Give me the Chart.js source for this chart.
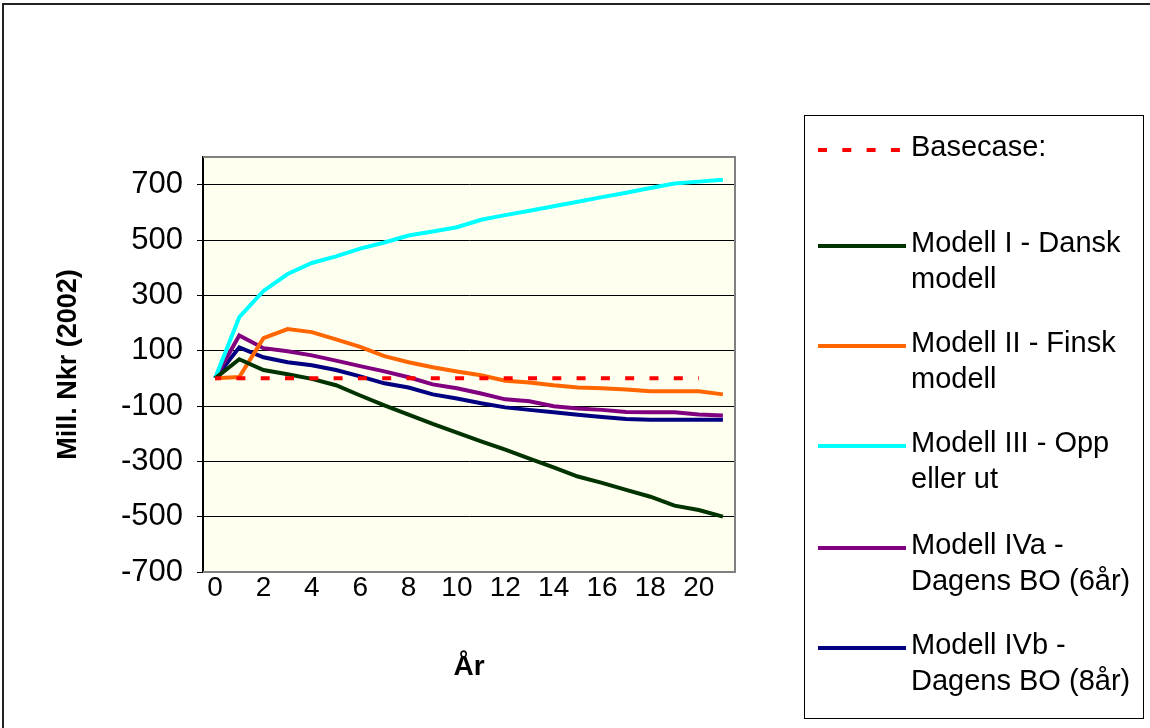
<!DOCTYPE html>
<html>
<head>
<meta charset="utf-8">
<title>Modell</title>
<script src="https://cdn.jsdelivr.net/npm/chart.js@4.4.0/dist/chart.umd.min.js"></script>
<style>
  html, body { margin: 0; padding: 0; background: #fff; }
  #wrap { width: 1150px; height: 728px; position: relative; }
</style>
</head>
<body>
<div id="wrap"><canvas id="chart"></canvas></div>
<script>
// years on the x axis
const years = ['0','1','2','3','4','5','6','7','8','9','10','11','12','13','14','15','16','17','18','19','20','21'];
const yTicks = [-700, -500, -300, -100, 100, 300, 500, 700];

// Mill. Nkr (2002) per year
const basecase = [0,0,0,0,0,0,0,0,0,0,0,0,0,0,0,0,0,0,0,0,0,null];
const dansk = [0, 69, 30, 15, -2, -25, -62, -98, -131, -165, -196, -228, -258, -290, -322, -355, -378, -403, -428, -460, -476, -500];
const finsk = [0, 5, 145, 178, 167, 141, 114, 80, 58, 40, 25, 11, -9, -15, -25, -33, -36, -40, -47, -47, -47, -58];
const oppEllerUt = [0, 221, 316, 377, 417, 441, 469, 491, 516, 531, 546, 573, 590, 606, 622, 638, 655, 671, 688, 704, 711, 718];
const dagensBO6 = [0, 155, 109, 98, 83, 64, 44, 25, 4, -22, -36, -55, -76, -83, -101, -109, -114, -122, -123, -123, -131, -134];
const dagensBO8 = [0, 112, 76, 58, 47, 30, 7, -18, -33, -58, -73, -90, -105, -114, -123, -132, -140, -147, -150, -150, -150, -150];

const seriesNames = [
  'Basecase:',
  'Modell I - Dansk\nmodell',
  'Modell II - Finsk\nmodell',
  'Modell III - Opp\neller ut',
  'Modell IVa -\nDagens BO (6år)',
  'Modell IVb -\nDagens BO (8år)'
];
const seriesColors = ['#ff0000', '#003300', '#ff6600', '#00ffff', '#800080', '#000080'];
const seriesData = [basecase, dansk, finsk, oppEllerUt, dagensBO6, dagensBO8];

const FONT = 'Arial, "Liberation Sans", sans-serif';

// ivory plot area, gray frame and outer border
const frame = {
  id: 'frame',
  beforeDraw(chart) {
    const { ctx, chartArea: a } = chart;
    ctx.save();
    ctx.fillStyle = '#fff';
    ctx.fillRect(0, 0, chart.width, chart.height);
    ctx.fillStyle = '#fffff0';
    ctx.fillRect(a.left, a.top, a.right - a.left, a.bottom - a.top);
    ctx.restore();
  },
  afterDraw(chart) {
    const { ctx, chartArea: a } = chart;
    ctx.save();
    ctx.strokeStyle = '#808080';
    ctx.lineWidth = 2;
    ctx.beginPath();
    ctx.moveTo(a.left, a.top);
    ctx.lineTo(a.right, a.top);
    ctx.lineTo(a.right, a.bottom);
    ctx.lineTo(a.left, a.bottom);
    ctx.stroke();
    ctx.strokeStyle = '#222';
    ctx.lineWidth = 2;
    ctx.strokeRect(3, 4, chart.width + 10, chart.height + 10);
    ctx.restore();
  }
};

// boxed legend on the right, with wrapped labels
const sideLegend = {
  id: 'sideLegend',
  afterDraw(chart) {
    const ctx = chart.ctx;
    const rows = [150, 246, 346, 446, 548, 648];
    ctx.save();
    ctx.fillStyle = '#fff';
    ctx.fillRect(804, 115, 339, 603);
    ctx.strokeStyle = '#000';
    ctx.lineWidth = 1;
    ctx.strokeRect(804.5, 115.5, 339, 603);
    chart.data.datasets.forEach((ds, i) => {
      const y = rows[i];
      ctx.strokeStyle = ds.borderColor;
      ctx.lineWidth = 4;
      ctx.setLineDash(ds.borderDash || []);
      ctx.beginPath();
      ctx.moveTo(818, y);
      ctx.lineTo(906, y);
      ctx.stroke();
      ctx.setLineDash([]);
      ctx.fillStyle = '#000';
      ctx.font = '29px ' + FONT;
      ctx.textBaseline = 'middle';
      ctx.textAlign = 'left';
      seriesNames[i].split('\n').forEach((line, k) => {
        ctx.fillText(line, 911, y - 2 + k * 36);
      });
    });
    ctx.restore();
  }
};

const datasets = seriesData.map((d, i) => ({
  label: seriesNames[i].replace('\n', ' '),
  data: d,
  borderColor: seriesColors[i],
  backgroundColor: seriesColors[i],
  borderWidth: 4,
  pointRadius: 0,
  tension: 0,
  fill: false,
  spanGaps: false,
  borderDash: i === 0 ? [9, 15.3] : undefined,
  borderDashOffset: i === 0 ? 3 : 0
}));

new Chart(document.getElementById('chart'), {
  type: 'line',
  data: { labels: years, datasets },
  options: {
    responsive: true,
    maintainAspectRatio: false,
    animation: false,
    layout: { padding: { left: 0, top: 157, right: 415, bottom: 0 } },
    plugins: {
      legend: { display: false },
      tooltip: { enabled: false }
    },
    scales: {
      x: {
        offset: true,
        afterFit: s => { s.height = 156; },
        grid: { display: false, drawTicks: false },
        border: { display: false },
        ticks: {
          autoSkip: false,
          maxRotation: 0,
          color: '#000',
          padding: 2,
          font: { family: FONT, size: 28, lineHeight: 1 },
          callback: (v, i) => (i % 2 === 0 ? years[i] : '')
        },
        title: {
          display: true,
          text: 'År',
          color: '#000',
          font: { family: FONT, size: 28, weight: 'bold' },
          padding: { top: 0, bottom: 44 }
        }
      },
      y: {
        min: -700,
        max: 800,
        afterFit: s => { s.width = 203; },
        afterBuildTicks: s => { s.ticks = yTicks.map(v => ({ value: v })); },
        grid: {
          color: c => (c.tick && c.tick.value === -700 ? '#808080' : '#000'),
          lineWidth: 1,
          drawTicks: true,
          tickLength: 6,
          tickColor: '#000'
        },
        border: { display: true, color: '#000', width: 2 },
        ticks: {
          color: '#000',
          padding: 14,
          font: { family: FONT, size: 31 }
        },
        title: {
          display: true,
          text: 'Mill. Nkr (2002)',
          color: '#000',
          font: { family: FONT, size: 27, weight: 'bold' },
          padding: { top: 52, bottom: 0 }
        }
      }
    }
  },
  plugins: [frame, sideLegend]
});
</script>
</body>
</html>
